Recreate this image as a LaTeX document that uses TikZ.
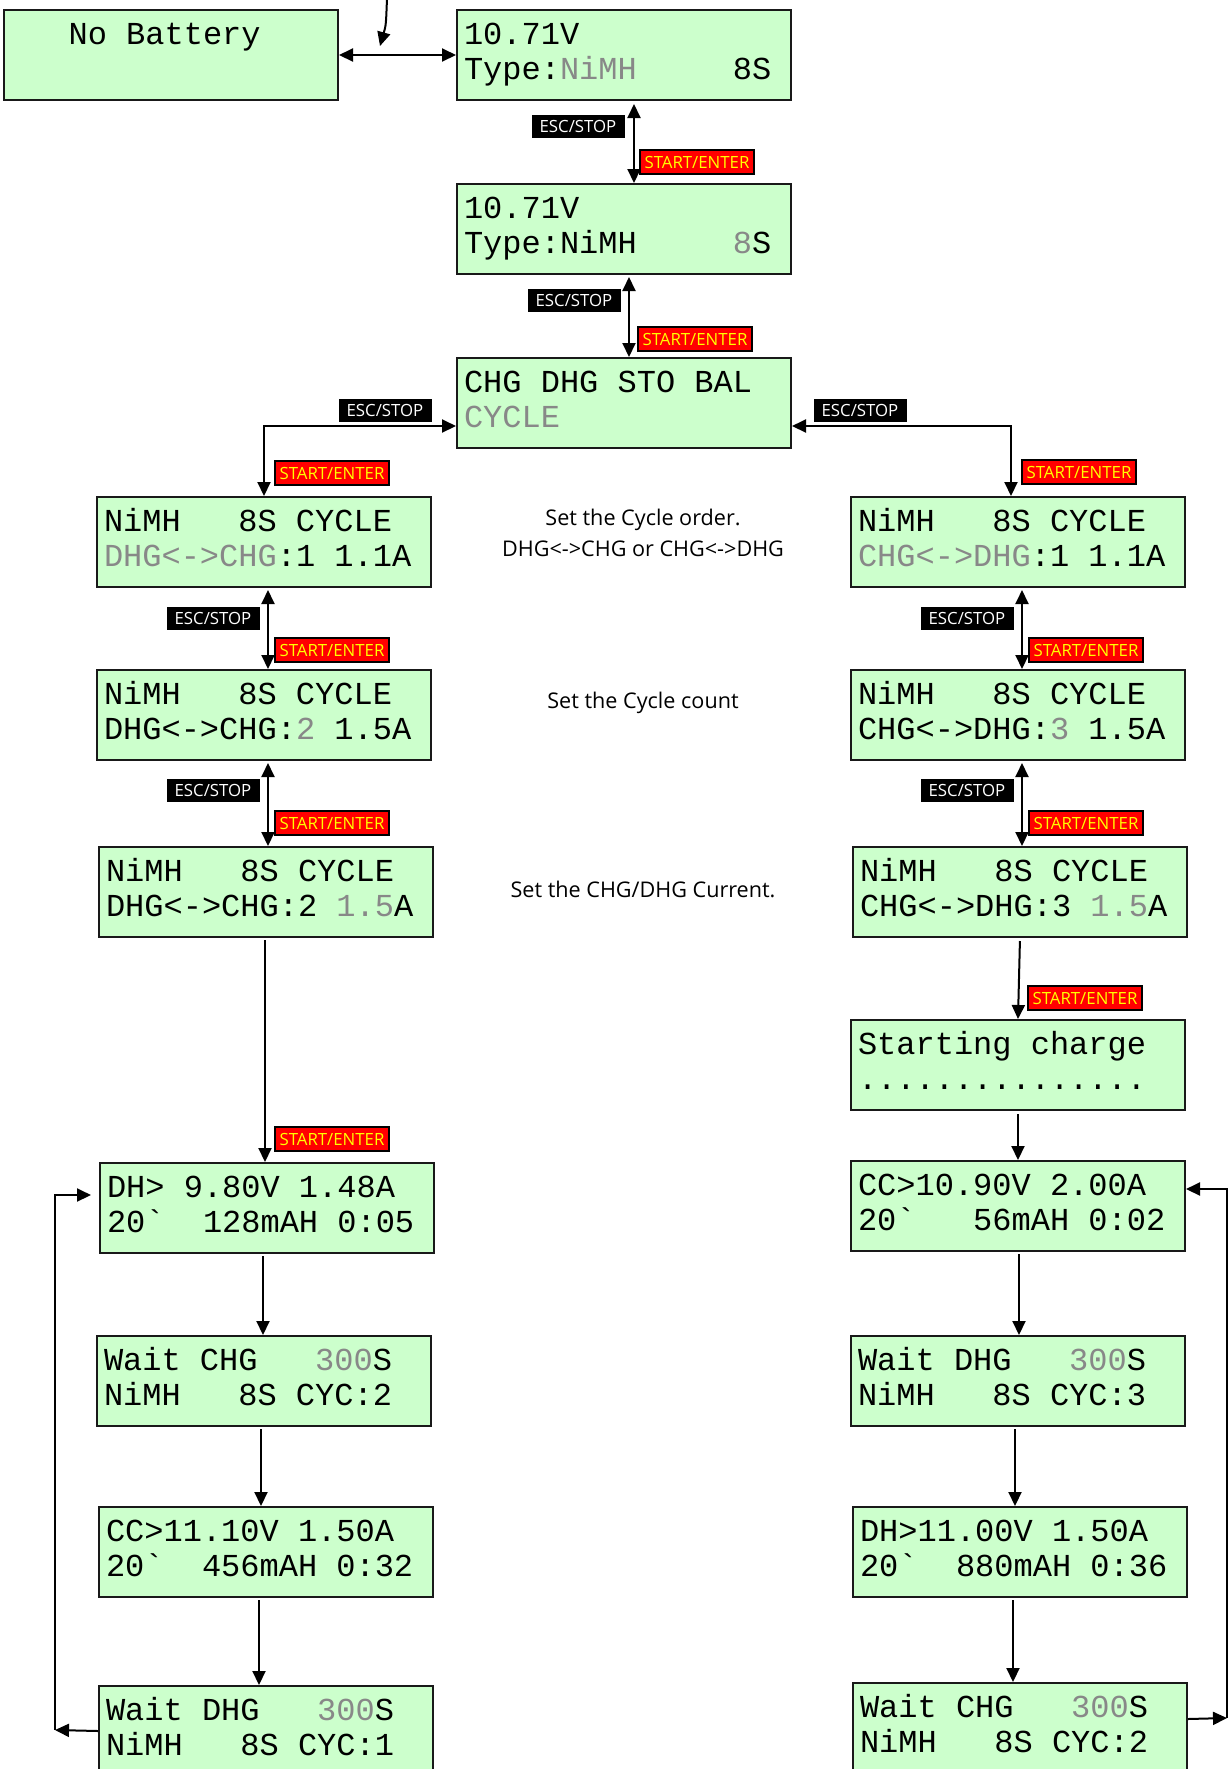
\documentclass[tikz,border=0pt]{standalone}
\usepackage{fontspec}
\setmainfont{Open Sans}
\setmonofont{Liberation Mono}
\usetikzlibrary{arrows.meta,calc}

\definecolor{lcdgreen}{RGB}{204,255,204}
\definecolor{lcdgray}{RGB}{136,136,136}
\definecolor{btnyellow}{RGB}{255,255,0}

% dimmed (blinking / selectable) characters on the display
\newcommand\gr[1]{{\color{lcdgray}#1}}
% two display lines at fixed baselines inside a 167pt x 45pt panel
\newcommand\lcdlines[2]{\vbox to 45pt{\offinterlineskip\hsize=167pt\kern17pt
  \hbox to 167pt{\kern3.5pt\smash{#1}\hss}\kern17.5pt
  \hbox to 167pt{\kern3.5pt\smash{#2}\hss}\vss}}

\tikzset{
  lcd/.style={draw=black!90, line width=1pt, fill=lcdgreen, inner sep=0pt,
    anchor=north west, font=\ttfamily\fontsize{16}{17.5}\selectfont},
  escbtn/.style={fill=black, text=white, inner sep=0pt, minimum width=46.5pt,
    minimum height=11.5pt, font=\fontsize{8.4}{9}\selectfont},
  startbtn/.style={fill=red, draw=black, line width=0.8pt, text=btnyellow, inner sep=0pt,
    minimum width=57pt, minimum height=12pt, font=\fontsize{8.4}{9}\selectfont},
  conn/.style={draw=black, line width=1pt},
  note/.style={font=\fontsize{10.8}{15.8}\selectfont, align=center},
  >={Triangle[length=7pt,width=6.5pt]}
}

\begin{document}
\begin{tikzpicture}[x=0.5pt,y=-0.5pt]
\useasboundingbox (0,0) rectangle (1230,1769);
\clip (0,0) rectangle (1230,1769);

% ---- top row ----
\node[lcd] (NB) at (3,9)   {\lcdlines{~~~No~Battery}{}};
\node[lcd] (B1) at (456,9)   {\lcdlines{10.71V}{Type:\gr{NiMH}~~~~~8S}};
\node[lcd] (B2) at (456,183) {\lcdlines{10.71V}{Type:NiMH~~~~~\gr{8}S}};
\node[lcd] (B3) at (456,357) {\lcdlines{CHG~DHG~STO~BAL}{\gr{CYCLE}}};

% ---- left column: DHG<->CHG ----
\node[lcd] (L1) at (96,496)  {\lcdlines{NiMH~~~8S~CYCLE}{\gr{DHG<->CHG}:1~1.1A}};
\node[lcd] (L2) at (96,669)  {\lcdlines{NiMH~~~8S~CYCLE}{DHG<->CHG:\gr{2}~1.5A}};
\node[lcd] (L3) at (98,846)  {\lcdlines{NiMH~~~8S~CYCLE}{DHG<->CHG:2~\gr{1.5}A}};
\node[lcd] (L4) at (99,1162) {\lcdlines{DH>~9.80V~1.48A}{20`~~128mAH~0:05}};
\node[lcd] (L5) at (96,1335) {\lcdlines{Wait~CHG~~~\gr{300}S}{NiMH~~~8S~CYC:2}};
\node[lcd] (L6) at (98,1506) {\lcdlines{CC>11.10V~1.50A}{20`~~456mAH~0:32}};
\node[lcd] (L7) at (98,1685) {\lcdlines{Wait~DHG~~~\gr{300}S}{NiMH~~~8S~CYC:1}};

% ---- right column: CHG<->DHG ----
\node[lcd] (R1) at (850,496)  {\lcdlines{NiMH~~~8S~CYCLE}{\gr{CHG<->DHG}:1~1.1A}};
\node[lcd] (R2) at (850,669)  {\lcdlines{NiMH~~~8S~CYCLE}{CHG<->DHG:\gr{3}~1.5A}};
\node[lcd] (R3) at (852,846)  {\lcdlines{NiMH~~~8S~CYCLE}{CHG<->DHG:3~\gr{1.5}A}};
\node[lcd] (R4) at (850,1019) {\lcdlines{Starting~charge}{...............}};
\node[lcd] (R5) at (850,1160) {\lcdlines{CC>10.90V~2.00A}{20`~~~56mAH~0:02}};
\node[lcd] (R6) at (850,1335) {\lcdlines{Wait~DHG~~~\gr{300}S}{NiMH~~~8S~CYC:3}};
\node[lcd] (R7) at (852,1506) {\lcdlines{DH>11.00V~1.50A}{20`~~880mAH~0:36}};
\node[lcd] (R8) at (852,1682) {\lcdlines{Wait~CHG~~~\gr{300}S}{NiMH~~~8S~CYC:2}};

% ---- notes ----
\node[note] (n1) at (643,533) {Set the Cycle order.\\DHG<->CHG or CHG<->DHG};
\node[note] (n2) at (643,703) {Set the Cycle count};
\node[note] (n3) at (643,889) {Set the CHG/DHG Current.};

% ---- connectors: top ----
\coordinate (feed) at (387,-2);
\coordinate (feedend) at (380,46);
\draw[conn,->] (feed) .. controls (386,25) .. (feedend);
\draw[conn,<->] (NB.east) -- (B1.west);
\draw[conn,<->,shorten <=1.5pt] ([xshift=5pt]B1.south) -- ([xshift=5pt]B2.north);
\draw[conn,<->,shorten <=1pt] ([xshift=2.5pt]B2.south) -- ([xshift=2.5pt]B3.north);
\draw[conn,<->] ([yshift=-11.5pt]B3.west) -| (L1.north);
\draw[conn,<->] ([yshift=-11.5pt]B3.east) -| ([xshift=-3.5pt]R1.north);

% ---- connectors: left column ----
\draw[conn,<->,shorten <=1pt] ([xshift=2pt]L1.south) -- ([xshift=2pt]L1.south |- L2.north);
\draw[conn,<->,shorten <=1pt] ([xshift=2pt]L2.south) -- ([xshift=2pt]L2.south |- L3.north);
\draw[conn,->,shorten <=1pt] ([xshift=-0.5pt]L3.south) -- ([xshift=-0.5pt]L3.south |- L4.north);
\draw[conn,->,shorten <=1pt] ([xshift=-2pt]L4.south) -- ([xshift=-2pt]L4.south |- L5.north);
\draw[conn,->,shorten <=1pt] ([xshift=-1.5pt]L5.south) -- ([xshift=-1.5pt]L5.south |- L6.north);
\draw[conn,->,shorten <=1pt] ([xshift=-3.5pt]L6.south) -- ([xshift=-3.5pt]L6.south |- L7.north);
\coordinate (lloop) at (55,1730);
\draw[conn,->] (L7.west) -- (lloop);
\draw[conn,->,shorten >=4pt] (lloop) |- ([yshift=6.5pt]L4.west);

% ---- connectors: right column ----
\draw[conn,<->,shorten <=1pt] ([xshift=2pt]R1.south) -- ([xshift=2pt]R1.south |- R2.north);
\draw[conn,<->,shorten <=1pt] ([xshift=2pt]R2.south) -- ([xshift=2pt]R2.south |- R3.north);
\draw[conn,->,shorten <=1.5pt] (R3.south) -- (R4.north);
\draw[conn,->,shorten <=1.5pt] (R4.south) -- (R5.north);
\draw[conn,->,shorten <=1pt] ([xshift=0.5pt]R5.south) -- ([xshift=0.5pt]R5.south |- R6.north);
\draw[conn,->,shorten <=1pt] ([xshift=-1.5pt]R6.south) -- ([xshift=-1.5pt]R6.south |- R7.north);
\draw[conn,->,shorten <=1pt] ([xshift=-3.5pt]R7.south) -- ([xshift=-3.5pt]R7.south |- R8.north);
\coordinate (rloop) at (1227,1718);
\draw[conn,->] ([yshift=4.5pt]R8.east) -- (rloop);
\draw[conn,->] (rloop) |- ([yshift=8.5pt]R5.east);

% ---- key labels ----
\node[escbtn]   (e1) at (578,126)  {ESC/STOP};
\node[startbtn] (s1) at (697,162)  {START/ENTER};
\node[escbtn]   (e2) at (574,300)  {ESC/STOP};
\node[startbtn] (s2) at (695,339)  {START/ENTER};
\node[escbtn]   (eL) at (385,410)  {ESC/STOP};
\node[startbtn] (sL) at (332,473)  {START/ENTER};
\node[escbtn]   (eR) at (860,410)  {ESC/STOP};
\node[startbtn] (sR) at (1079,472) {START/ENTER};
\node[escbtn]   (eL1) at (213,618) {ESC/STOP};
\node[startbtn] (sL1) at (332,650) {START/ENTER};
\node[escbtn]   (eL2) at (213,790) {ESC/STOP};
\node[startbtn] (sL2) at (332,823) {START/ENTER};
\node[escbtn]   (eR1) at (967,618) {ESC/STOP};
\node[startbtn] (sR1) at (1086,650) {START/ENTER};
\node[escbtn]   (eR2) at (967,790) {ESC/STOP};
\node[startbtn] (sR2) at (1086,823) {START/ENTER};
\node[startbtn] (sL3) at (332,1139) {START/ENTER};
\node[startbtn] (sR3) at (1085,998) {START/ENTER};
\end{tikzpicture}
\end{document}
